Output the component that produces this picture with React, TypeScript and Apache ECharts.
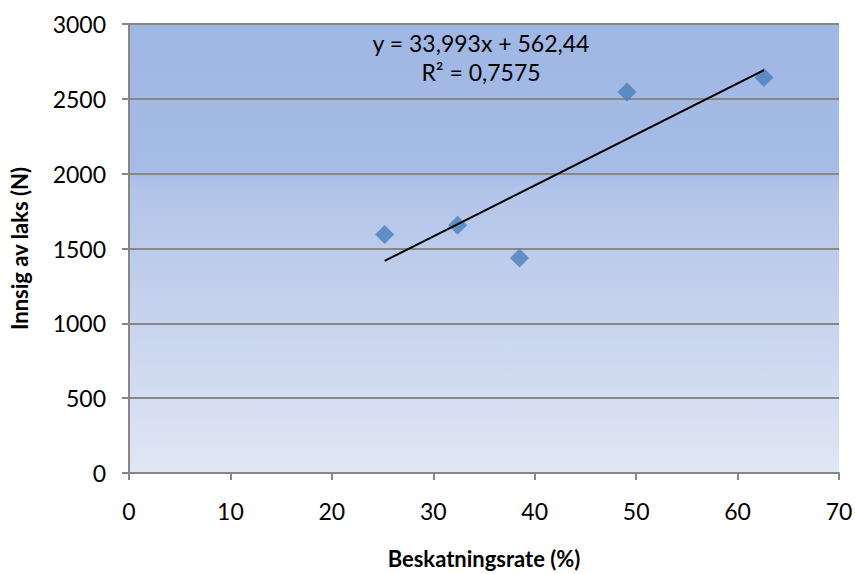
import React, { useEffect, useRef } from "react";
import * as echarts from "echarts";

const xValues = [25.2, 32.4, 38.5, 49.1, 62.6];
const yValues = [1594, 1656, 1437, 2545, 2643];
const trendX = [25.2, 62.6];
const trendY = [1417, 2692];
const equationText = "y = 33,993x + 562,44";
const r2Text = "R² = 0,7575";
const xTitle = "Beskatningsrate (%)";
const yTitle = "Innsig av laks (N)";

const FONT = "Lato, 'Open Sans', sans-serif";

export default function App() {
  const ref = useRef<HTMLDivElement>(null);
  useEffect(() => {
    if (!ref.current) return;
    const chart = echarts.init(ref.current, undefined, { renderer: "svg" });
    const gray = "#878787";
    chart.setOption({
      animation: false,
      textStyle: { fontFamily: FONT },
      grid: {
        left: 129,
        top: 24,
        right: 16,
        bottom: 101,
        containLabel: false,
        outerBoundsMode: "none",
        show: true,
        borderWidth: 0,
        backgroundColor: new echarts.graphic.LinearGradient(0, 0, 0, 1, [
          { offset: 0, color: "#9FB7E3" },
          { offset: 0.33, color: "#A5BCE6" },
          { offset: 0.37, color: "#B2C4E9" },
          { offset: 1, color: "#E0E6F4" },
        ]),
      },
      xAxis: {
        type: "value",
        min: 0,
        max: 70,
        interval: 10,
        name: xTitle,
        nameLocation: "middle",
        nameGap: 74,
        nameTextStyle: { fontFamily: FONT, fontSize: 22, fontWeight: "bold", color: "#000" },
        axisLine: { show: true, onZero: false, lineStyle: { color: gray, width: 2 } },
        axisTick: { show: true, length: 7, lineStyle: { color: gray, width: 2 } },
        axisLabel: { margin: 26, fontFamily: FONT, fontSize: 23, color: "#000" },
        splitLine: { show: false },
      },
      yAxis: {
        type: "value",
        min: 0,
        max: 3000,
        interval: 500,
        name: yTitle,
        nameLocation: "middle",
        nameGap: 99,
        nameTextStyle: { fontFamily: FONT, fontSize: 22, fontWeight: "bold", color: "#000" },
        axisLine: { show: true, lineStyle: { color: gray, width: 2 } },
        axisTick: { show: true, length: 7, lineStyle: { color: gray, width: 2 } },
        axisLabel: {
          margin: 23,
          fontFamily: FONT,
          fontSize: 23,
          color: "#000",
          formatter: (v: number) => String(v),
        },
        splitLine: { show: true, lineStyle: { color: gray, width: 2 } },
      },
      series: [
        {
          type: "line",
          data: trendX.map((x, i) => [x, trendY[i]]),
          showSymbol: false,
          symbol: "none",
          lineStyle: { color: "#000", width: 2 },
          z: 3,
        },
        {
          type: "scatter",
          data: xValues.map((x, i) => [x, yValues[i]]),
          symbol: "diamond",
          symbolSize: 19,
          itemStyle: { color: "#4A7EBB" },
          z: 2,
        },
      ],
      graphic: [
        {
          type: "text",
          x: 481,
          y: 43,
          style: {
            text: equationText,
            font: `23px ${FONT}`,
            fill: "#000",
            align: "center",
            verticalAlign: "middle",
          },
          z: 10,
        },
        {
          type: "text",
          x: 481,
          y: 72,
          style: {
            text: r2Text,
            font: `23px ${FONT}`,
            fill: "#000",
            align: "center",
            verticalAlign: "middle",
          },
          z: 10,
        },
      ],
    });
    return () => chart.dispose();
  }, []);
  return (
    <div
      ref={ref}
      style={{ position: "absolute", left: 0, top: 0, width: 855, height: 574 }}
    />
  );
}
